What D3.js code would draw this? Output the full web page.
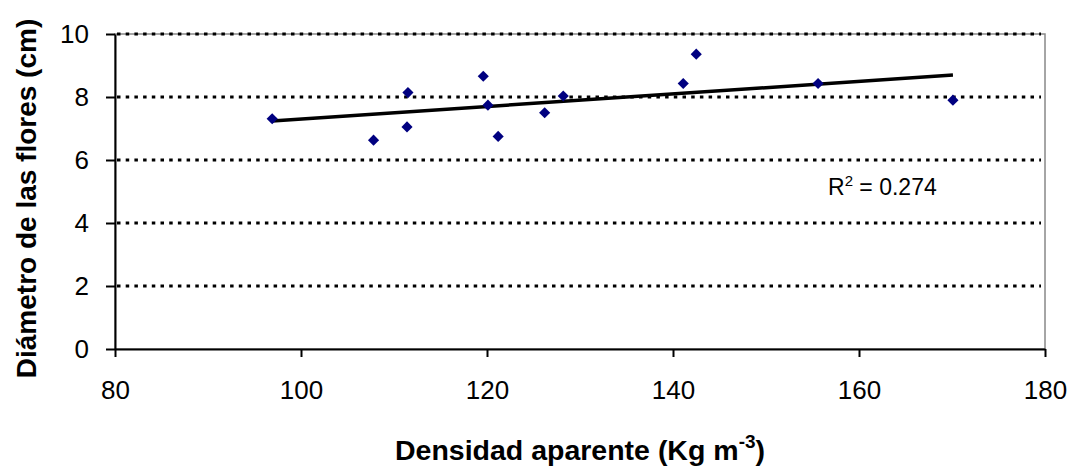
<!DOCTYPE html>
<html>
<head>
<meta charset="utf-8">
<script src="https://cdn.jsdelivr.net/npm/d3@7"></script>
<style>
  body { margin: 0; background: #fff; }
  svg { display: block; font-family: "Liberation Sans", Arial, sans-serif; }
</style>
</head>
<body>
<script>
// Densidad aparente (Kg m-3) vs diámetro de las flores (cm)
const density = [96.9, 107.8, 111.4, 111.5, 119.6, 120.1, 121.2, 126.2, 128.2, 141.1, 142.5, 155.6, 170.1];
const diameter = [7.31, 6.63, 7.05, 8.14, 8.66, 7.74, 6.75, 7.50, 8.03, 8.43, 9.36, 8.43, 7.90];
const xTicks = [80, 100, 120, 140, 160, 180];
const yTicks = [0, 2, 4, 6, 8, 10];
const gridValues = [2, 4, 6, 8, 10];
const r2Label = "0.274";

const width = 1082;
const height = 468;

const svg = d3
  .select("body")
  .append("svg")
  .attr("width", width)
  .attr("height", height);

const xScale = d3.scaleLinear().domain([80, 180]).range([115, 1045]);
const yScale = d3.scaleLinear().domain([0, 10]).range([349, 34]);

// plot area border (grey, top/right)
svg
  .append("rect")
  .attr("x", xScale(80))
  .attr("y", yScale(10))
  .attr("width", xScale(180) - xScale(80))
  .attr("height", yScale(0) - yScale(10))
  .attr("fill", "none")
  .attr("stroke", "#888")
  .attr("stroke-width", 1.5);

// gridlines
svg
  .append("g")
  .attr("id", "grid")
  .selectAll("line")
  .data(gridValues)
  .enter()
  .append("line")
  .attr("x1", xScale(80) + 2)
  .attr("x2", xScale(180) - 4)
  .attr("y1", (d) => yScale(d))
  .attr("y2", (d) => yScale(d))
  .attr("stroke", "#000")
  .attr("stroke-width", 3)
  .attr("stroke-dasharray", "3.5,5.2");

// axes
const xAxis = d3
  .axisBottom(xScale)
  .tickValues(xTicks)
  .tickSizeInner(8)
  .tickSizeOuter(0)
  .tickPadding(24);

const yAxis = d3
  .axisLeft(yScale)
  .tickValues(yTicks)
  .tickSizeInner(9)
  .tickSizeOuter(0)
  .tickPadding(17);

const xAxisG = svg
  .append("g")
  .attr("id", "x-axis")
  .attr("transform", `translate(0, ${yScale(0)})`)
  .call(xAxis);

const yAxisG = svg
  .append("g")
  .attr("id", "y-axis")
  .attr("transform", `translate(${xScale(80)}, 0)`)
  .call(yAxis);

[xAxisG, yAxisG].forEach((g) => {
  g.select(".domain").attr("stroke", "#000").attr("stroke-width", 2);
  g.selectAll(".tick line").attr("stroke", "#000").attr("stroke-width", 2);
  g.selectAll(".tick text")
    .attr("fill", "#000")
    .style("font-size", "26px")
    .style("font-family", '"Liberation Sans", Arial, sans-serif');
});

// trend line (least squares from the points)
const xMean = d3.mean(density);
const yMean = d3.mean(diameter);
const slope =
  d3.sum(density, (d, i) => (d - xMean) * (diameter[i] - yMean)) /
  d3.sum(density, (d) => (d - xMean) ** 2);
const intercept = yMean - slope * xMean;
const [xMin, xMax] = d3.extent(density);

svg
  .append("line")
  .attr("id", "trend")
  .attr("x1", xScale(xMin))
  .attr("y1", yScale(intercept + slope * xMin))
  .attr("x2", xScale(xMax))
  .attr("y2", yScale(intercept + slope * xMax))
  .attr("stroke", "#000")
  .attr("stroke-width", 3.5);

// points
const diamond = d3.symbol().type(d3.symbolSquare).size(62);

svg
  .append("g")
  .attr("id", "points")
  .selectAll("path")
  .data(density)
  .enter()
  .append("path")
  .attr("d", diamond)
  .attr(
    "transform",
    (d, i) => `translate(${xScale(d)}, ${yScale(diameter[i])}) rotate(45)`
  )
  .attr("fill", "#000080");

// R² label
const r2 = svg
  .append("text")
  .attr("x", 828)
  .attr("y", 195)
  .style("font-size", "23px")
  .attr("fill", "#000");
r2.append("tspan").text("R");
r2.append("tspan").attr("dy", -9).style("font-size", "15px").text("2");
r2.append("tspan").attr("dy", 9).text(" = " + r2Label);

// axis titles
const xTitle = svg
  .append("text")
  .attr("x", (xScale(80) + xScale(180)) / 2)
  .attr("y", 460)
  .attr("text-anchor", "middle")
  .style("font-size", "28.5px")
  .style("font-weight", "bold")
  .attr("fill", "#000");
xTitle.append("tspan").text("Densidad aparente (Kg m");
xTitle.append("tspan").attr("dy", -12).style("font-size", "19px").text("-3");
xTitle.append("tspan").attr("dy", 12).text(")");

svg
  .append("text")
  .attr("transform", "translate(36, 198.5) rotate(-90)")
  .attr("text-anchor", "middle")
  .style("font-size", "28px")
  .style("font-weight", "bold")
  .attr("fill", "#000")
  .text("Diámetro de las flores (cm)");
</script>
</body>
</html>
